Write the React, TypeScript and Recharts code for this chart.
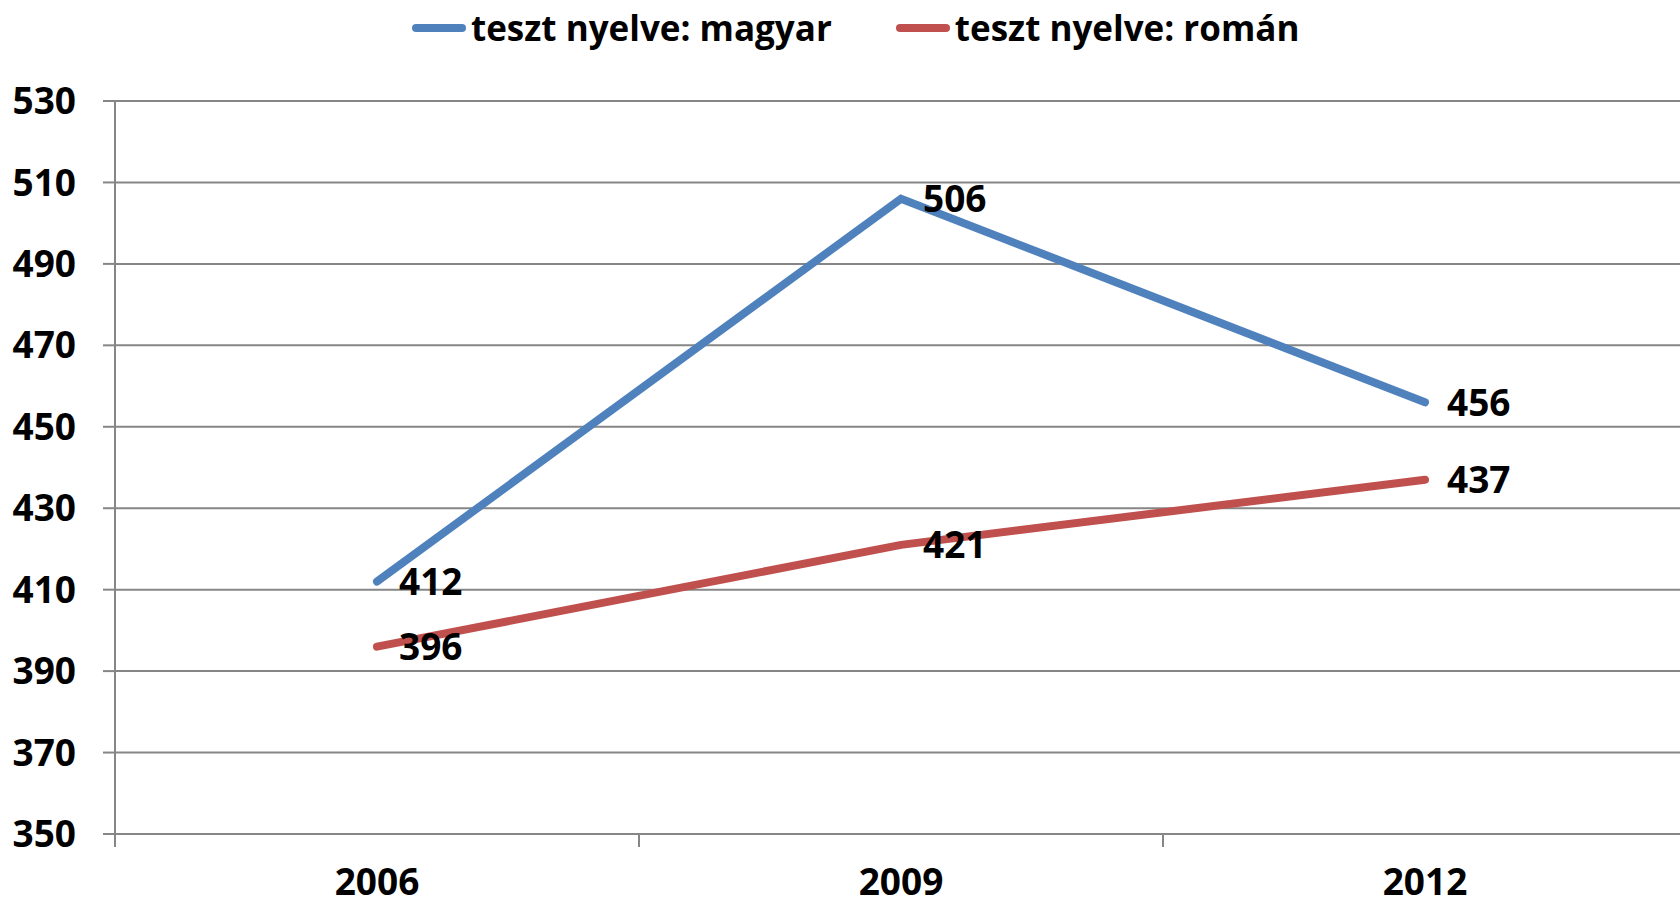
import React from 'react';
import { LineChart, Line, XAxis, YAxis, CartesianGrid, Legend, LabelList } from 'recharts';

const categories = ['2006', '2009', '2012'];
const magyar = [412, 506, 456];
const roman = [396, 421, 437];
const yTicks = [350, 370, 390, 410, 430, 450, 470, 490, 510, 530];
const seriesNames = ['teszt nyelve: magyar', 'teszt nyelve: román'];
const colors = ['#4F81BD', '#C0504D'];

const data = categories.map((c, i) => ({ x: i + 0.5, cat: c, magyar: magyar[i], roman: roman[i] }));
const xTicks: number[] = [];
for (let i = 0; i <= categories.length; i++) {
  xTicks.push(i);
  if (i < categories.length) xTicks.push(i + 0.5);
}

const FONT = '"Open Sans", sans-serif';
const GRID = '#868686';

const XTick = (props: any) => {
  const { x, y, payload } = props;
  const v = payload.value;
  if (Number.isInteger(v)) {
    return <line x1={x} x2={x} y1={y} y2={y + 13} stroke={GRID} strokeWidth={2} />;
  }
  const idx = Math.floor(v);
  return (
    <text x={x} y={y + 61} textAnchor="middle" fontFamily={FONT} fontWeight={700} fontSize={37} fill="#000">
      {categories[idx]}
    </text>
  );
};

const DataLabel = (props: any) => {
  const { x, y, value } = props;
  return (
    <text x={x + 22} y={y} dy="0.36em" textAnchor="start" fontFamily={FONT} fontWeight={700} fontSize={37} fill="#000">
      {value}
    </text>
  );
};

const LegendContent = () => (
  <div style={{ display: 'flex', alignItems: 'center', paddingLeft: 412, height: 56, fontFamily: FONT, fontWeight: 700, fontSize: 35, color: '#000' }}>
    {seriesNames.map((n, i) => (
      <div key={n} style={{ display: 'flex', alignItems: 'center', marginRight: 64 }}>
        <div style={{ width: 54, height: 8, borderRadius: 4, background: colors[i], marginRight: 5 }} />
        <span style={{ lineHeight: '40px' }}>{n}</span>
      </div>
    ))}
  </div>
);

export default function App() {
  return (
    <div style={{ position: 'fixed', left: 0, top: 0, width: 1680, height: 906, overflow: 'hidden', background: '#fff' }}>
      <LineChart width={1700} height={906} data={data} margin={{ top: 45, right: 13, bottom: 0, left: 0 }}>
        <Legend verticalAlign="top" content={<LegendContent />} wrapperStyle={{ position: 'absolute', top: 0, left: 0, width: 1680, height: 56 }} />
        <CartesianGrid vertical={false} stroke={GRID} strokeWidth={2} />
        <XAxis
          type="number"
          dataKey="x"
          domain={[0, categories.length]}
          ticks={xTicks}
          tick={<XTick />}
          tickLine={false}
          tickSize={0}
          tickMargin={0}
          interval={0}
          height={72}
          axisLine={{ stroke: GRID, strokeWidth: 2 }}
        />
        <YAxis
          domain={[350, 530]}
          ticks={yTicks}
          interval={0}
          width={115}
          tickSize={12}
          tickMargin={27}
          axisLine={{ stroke: GRID, strokeWidth: 2 }}
          tickLine={{ stroke: GRID, strokeWidth: 2 }}
          tick={{ fontFamily: FONT, fontWeight: 700, fontSize: 37, fill: '#000' }}
        />
        <Line dataKey="magyar" name={seriesNames[0]} stroke={colors[0]} strokeWidth={8} strokeLinecap="round" dot={false} isAnimationActive={false}>
          <LabelList dataKey="magyar" content={<DataLabel />} />
        </Line>
        <Line dataKey="roman" name={seriesNames[1]} stroke={colors[1]} strokeWidth={8} strokeLinecap="round" dot={false} isAnimationActive={false}>
          <LabelList dataKey="roman" content={<DataLabel />} />
        </Line>
      </LineChart>
    </div>
  );
}
